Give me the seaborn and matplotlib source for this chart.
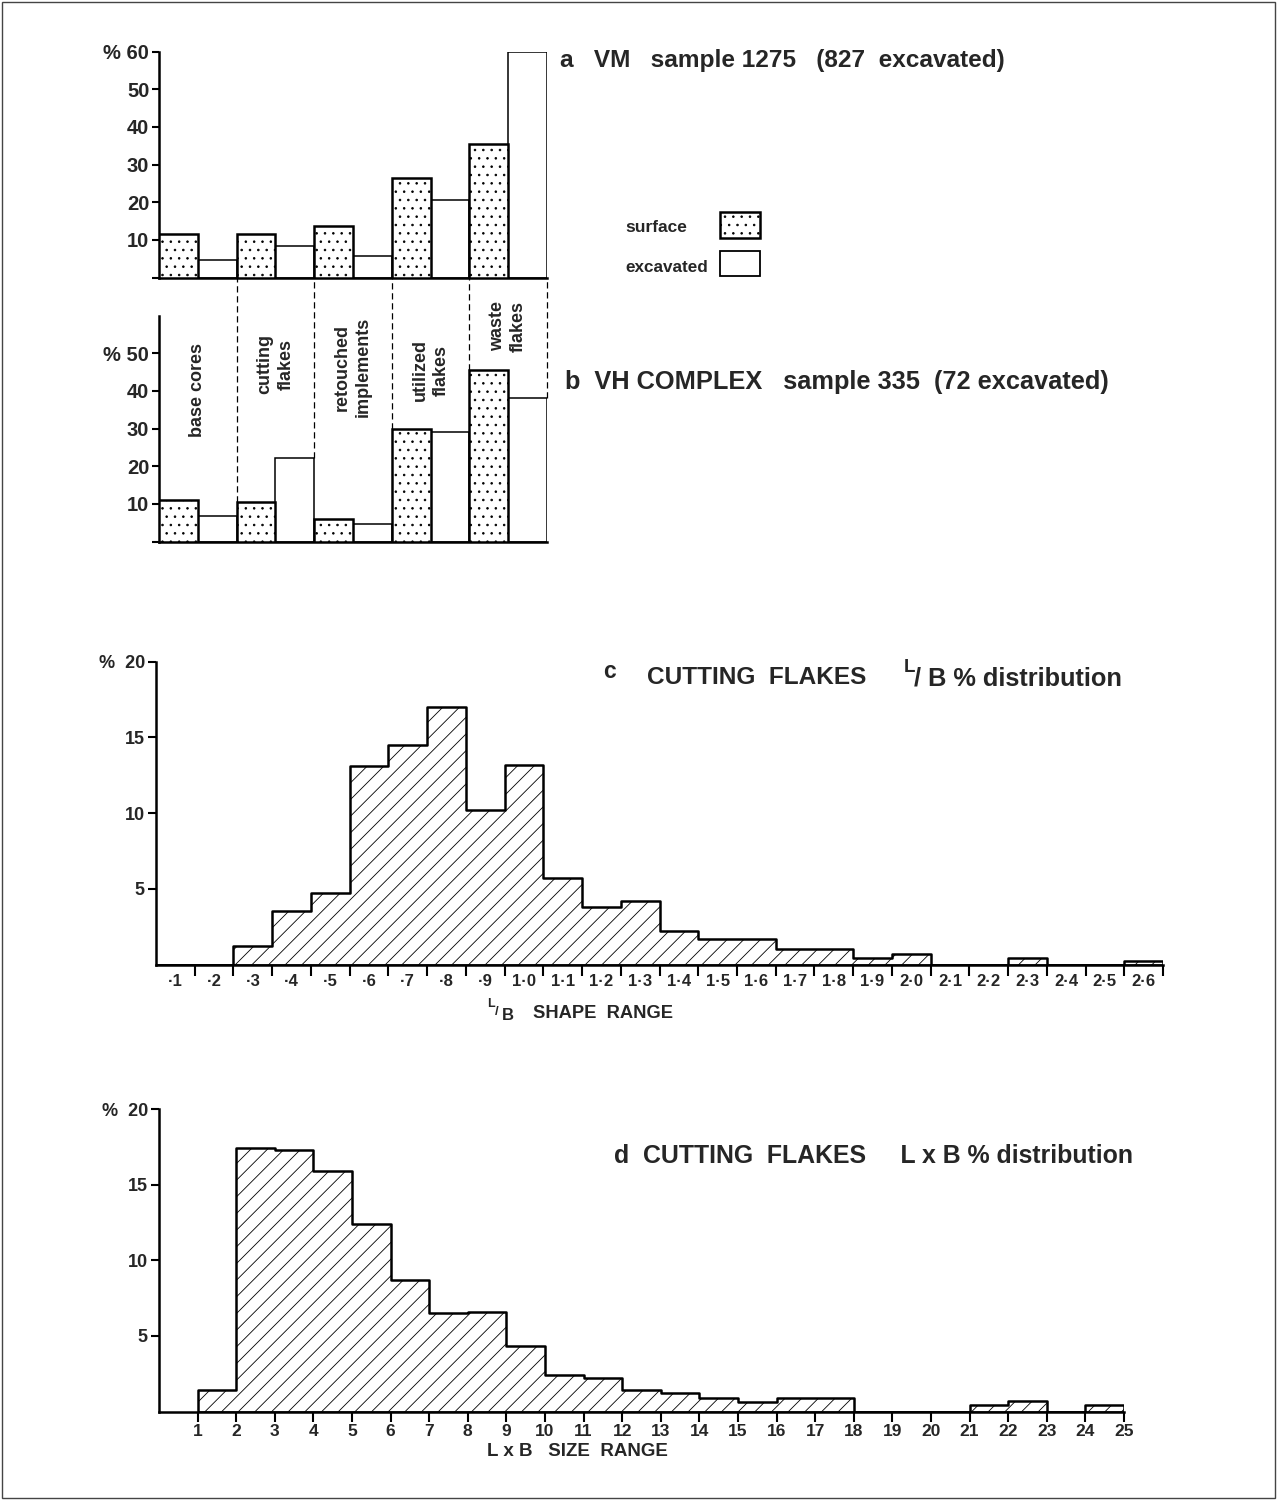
import numpy as np
import pandas as pd
import matplotlib
matplotlib.use("Agg")
import matplotlib.pyplot as plt
from matplotlib.patches import Rectangle
import seaborn as sns

# --- data ---
categories = ["base cores", "cutting flakes", "retouched implements",
              "utilized flakes", "waste flakes"]
category_text = ["base cores", "cutting\nflakes", "retouched\nimplements",
                 "utilized\nflakes", "waste\nflakes"]
vm_surface = [11.5, 11.5, 13.8, 26.4, 35.5]
vm_excavated = [4.7, 8.4, 5.6, 20.5, 60.0]
vh_surface = [11.1, 10.5, 6.1, 30.0, 45.4]
vh_excavated = [6.9, 22.3, 4.7, 29.1, 38.0]

shape_labels = ["·1", "·2", "·3", "·4", "·5", "·6", "·7", "·8", "·9", "1·0",
                "1·1", "1·2", "1·3", "1·4", "1·5", "1·6", "1·7", "1·8", "1·9",
                "2·0", "2·1", "2·2", "2·3", "2·4", "2·5", "2·6"]
shape_pct = [0, 0, 1.2, 3.5, 4.7, 13.1, 14.5, 17.0, 10.2, 13.2,
             5.7, 3.8, 4.2, 2.2, 1.7, 1.7, 1.0, 1.0, 0.45,
             0.7, 0, 0, 0.45, 0, 0, 0.25]

size_ticks = list(range(1, 26))
size_pct = [1.4, 17.4, 17.3, 15.9, 12.4, 8.7, 6.5, 6.6, 4.3, 2.4, 2.2, 1.4,
            1.2, 0.9, 0.65, 0.9, 0.9, 0, 0, 0, 0.4, 0.7, 0, 0.4]

sns.set_theme(style="white")
plt.rcParams['font.family'] = ['Liberation Sans', 'DejaVu Sans']
plt.rcParams['font.weight'] = 'bold'
plt.rcParams['hatch.linewidth'] = 0.6
plt.rcParams['hatch.color'] = 'black'

W, H = 1277, 1500
fig = plt.figure(figsize=(W / 100, H / 100), dpi=100)


def px_axes(left, top, right, bottom):
    return fig.add_axes([left / W, 1 - bottom / H, (right - left) / W, (bottom - top) / H])


ax_a = px_axes(159, 51.5, 547, 277.5)
ax_b = px_axes(159, 315.5, 547, 541.5)
ax_c = px_axes(156, 661.5, 1163, 964.5)
ax_d = px_axes(159, 1109, 1124, 1411.5)


def group_bars(ax, surface, excavated, top_label):
    df = pd.DataFrame({
        "category": categories * 2,
        "pct": surface + excavated,
        "source": ["surface"] * len(categories) + ["excavated"] * len(categories),
    })
    sns.barplot(data=df, x="category", y="pct", hue="source", order=categories,
                hue_order=["surface", "excavated"], width=1, saturation=1,
                palette={"surface": "white", "excavated": "white"},
                edgecolor="black", legend=False, ax=ax)
    for p in ax.containers[0]:
        p.set_hatch("..")
        p.set_linewidth(1.8)
        p.set_zorder(3)
    for p in ax.containers[1]:
        p.set_linewidth(1.1)
    ax.set_xlim(-0.5, len(categories) - 0.5)
    ax.set_ylim(0, 60)
    ax.set_xticks([])
    ax.set_xlabel("")
    ax.set_ylabel("")
    ticks = list(range(0, top_label + 1, 10))
    labels = [""] + [str(t) for t in ticks[1:-1]] + ["% " + str(top_label)]
    ax.set_yticks(ticks)
    ax.set_yticklabels(labels, fontsize=14.5, fontweight="bold")
    ax.tick_params(axis="y", left=True, length=5, width=1.5, pad=2, color="black")
    sns.despine(ax=ax)
    for s in ["left", "bottom"]:
        ax.spines[s].set_linewidth(1.8)
        ax.spines[s].set_color("black")


group_bars(ax_a, vm_surface, vm_excavated, 60)
group_bars(ax_b, vh_surface, vh_excavated, 50)

# dashed category dividers running up from panel b to panel a
pa, pb = ax_a.get_position(), ax_b.get_position()
y_top = 60 * (1 + (pa.y0 - pb.y1) / pb.height)
bounds = np.arange(len(categories)) + 0.5
stops = [max(vh_excavated[i], vh_surface[i + 1]) for i in range(len(categories) - 1)]
stops.append(vh_excavated[-1])
ax_b.vlines(bounds, stops, y_top, colors="black", linestyles=(0, (5, 3)),
            linewidth=0.9, clip_on=False, zorder=1)

label_y = [40.2, 47.1, 46.3, 45.5, 57.2]
for i, t in enumerate(category_text):
    ax_b.text(i, label_y[i], t, rotation=90, ha="center", va="center",
              multialignment="center", fontsize=13, fontweight="bold",
              linespacing=1.3)


def step_hist(ax, edges, values):
    edges = [float(e) for e in edges]
    mids = [(a + b) / 2 for a, b in zip(edges[:-1], edges[1:])]
    hist_df = pd.DataFrame({"bin": mids, "pct": values})
    sns.histplot(data=hist_df, x="bin", weights="pct", bins=edges,
                 element="step", fill=True, facecolor="white",
                 edgecolor="black", linewidth=1.8, hatch="//", ax=ax)
    ax.set_xlabel("")
    ax.set_ylabel("")
    ax.set_ylim(0, 20)
    ax.set_yticks([5, 10, 15, 20])
    ax.set_yticklabels(["5", "10", "15", "%  20"], fontsize=13, fontweight="bold")
    ax.tick_params(axis="y", left=True, length=6, width=1.5, pad=2, color="black")
    sns.despine(ax=ax)
    for s in ["left", "bottom"]:
        ax.spines[s].set_linewidth(1.8)
        ax.spines[s].set_color("black")


# panel c
n_shape = len(shape_labels)
step_hist(ax_c, range(n_shape + 1), shape_pct)
ax_c.set_xlim(0, n_shape)
ax_c.set_xticks(np.arange(1, n_shape + 1))
ax_c.set_xticklabels([])
ax_c.set_xticks(np.arange(n_shape) + 0.5, minor=True)
ax_c.set_xticklabels(shape_labels, minor=True, fontsize=12, fontweight="bold")
ax_c.tick_params(axis="x", which="major", bottom=True, length=8, width=1.5, color="black")
ax_c.tick_params(axis="x", which="minor", bottom=True, length=0, pad=7)

# panel d
step_hist(ax_d, size_ticks, size_pct)
ax_d.set_xlim(0, size_ticks[-1])
ax_d.set_xticks(size_ticks)
ax_d.set_xticklabels([str(t) for t in size_ticks], fontsize=12.5, fontweight="bold")
ax_d.tick_params(axis="x", bottom=True, length=7, width=1.5, pad=2, color="black")

# titles
def ftext(x, y, s, size, **kw):
    fig.text(x / W, 1 - y / H, s, fontsize=size, fontweight="bold",
             ha="left", va="center", **kw)


ftext(560, 60, "a   VM   sample 1275   (827  excavated)", 17.6)
ftext(565, 382, "b  VH COMPLEX   sample 335  (72 excavated)", 18.3)
ftext(603, 672, "c", 16.5)
ftext(647, 678, "CUTTING  FLAKES", 17.6)
ftext(904, 668, "L", 13.5)
ftext(914, 679, "/ B % distribution", 18.3)
ftext(614, 1156, "d  CUTTING  FLAKES     L x B % distribution", 17.9)

# axis labels
ftext(487, 1004, "L", 9)
ftext(495, 1012, "/", 9.5)
ftext(502, 1015.5, "B", 12)
ftext(533, 1014, "SHAPE  RANGE", 13.2)
ftext(487, 1452, "L x B   SIZE  RANGE", 13.5)

# legend
ftext(625, 228, "surface", 12.5)
ftext(625, 268, "excavated", 12.3)
fig.patches.append(Rectangle((720 / W, 1 - 238 / H), 40 / W, 26 / H,
                             transform=fig.transFigure, facecolor="white",
                             edgecolor="black", hatch="..", linewidth=1.8))
fig.patches.append(Rectangle((720 / W, 1 - 276 / H), 40 / W, 25 / H,
                             transform=fig.transFigure, facecolor="white",
                             edgecolor="black", linewidth=1.3))

# outer frame
fig.patches.append(Rectangle((2 / W, 2 / H), 1 - 4 / W, 1 - 4 / H,
                             transform=fig.transFigure, fill=False,
                             edgecolor="#444444", linewidth=1.0))

fig.savefig("out.png", dpi=100)
